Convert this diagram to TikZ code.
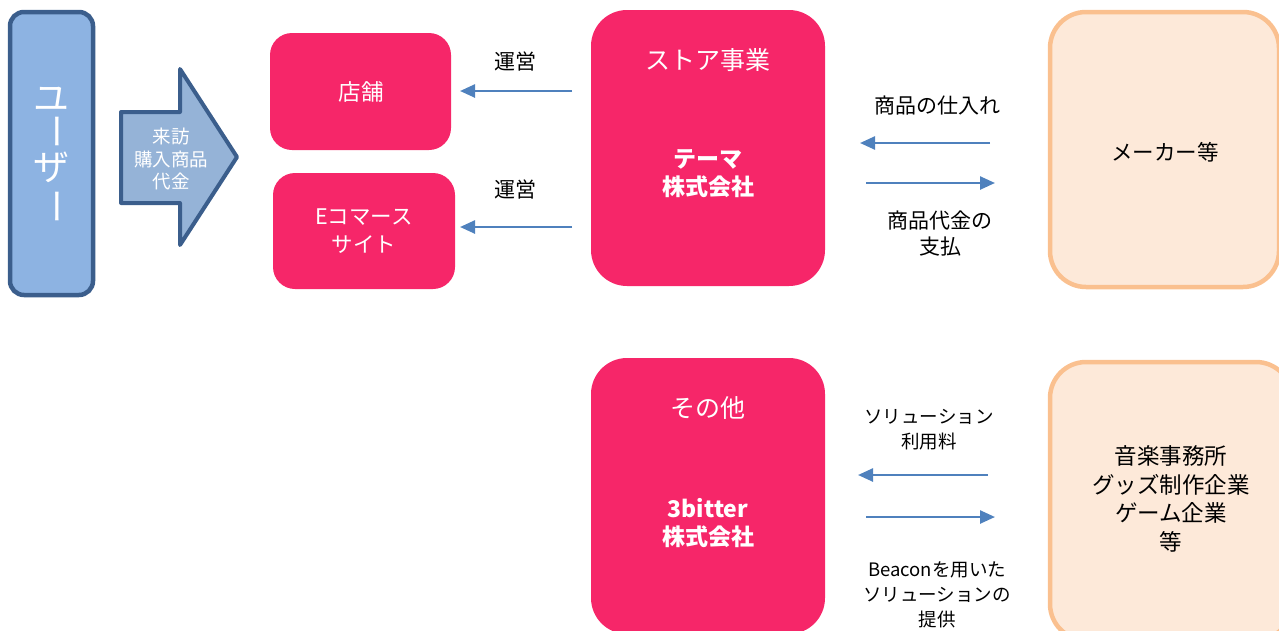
\documentclass[tikz,border=0pt]{standalone}
\usepackage{fontspec}
\setmainfont{Noto Sans CJK JP}
\usetikzlibrary{arrows.meta}
\definecolor{pinkbox}{HTML}{F62669}
\definecolor{userfill}{HTML}{8DB3E2}
\definecolor{userline}{HTML}{3B5E8C}
\definecolor{arrowfill}{HTML}{95B3D7}
\definecolor{peachfill}{HTML}{FDE9D9}
\definecolor{peachline}{HTML}{FAC08F}
\definecolor{flowblue}{HTML}{4F81BD}
\tikzset{
  pinkrect/.style={fill=pinkbox, draw=none, rounded corners=22pt, text=white, align=center, inner sep=0pt},
  bigpink/.style={fill=pinkbox, draw=none, rounded corners=36pt},
  peachrect/.style={fill=peachfill, draw=peachline, line width=4.5pt, rounded corners=36pt},
  flow/.style={draw=flowblue, line width=2.5pt, -{Triangle[length=15pt,width=13pt]}},
  lbl/.style={align=center, font={\fontsize{21}{26}\selectfont}, inner sep=0pt},
  lblb/.style={align=center, font={\fontsize{18.5}{25}\selectfont}, inner sep=0pt},
  vchar/.style={text=white, font={\fontsize{36}{36}\selectfont}, inner sep=0pt},
}
\begin{document}
\begin{tikzpicture}[x=1pt,y=-1pt]
\useasboundingbox (0,0) rectangle (1279,630);
% user
\draw[fill=userfill, draw=userline, line width=4.5pt, rounded corners=14pt] (10,12) rectangle (93,295);
\node[vchar] (u1) at (51,99) {ユ};
\node[vchar, rotate=-90] (u2) at (51,131) {ー};
\node[vchar] (u3) at (51,167) {ザ};
\node[vchar, rotate=-90] (u4) at (51,206) {ー};
% block arrow
\draw[fill=arrowfill, draw=userline, line width=4pt, line join=round]
  (121,112) -- (180,112) -- (180,69) -- (237,157) -- (180,245) -- (180,203) -- (121,203) -- cycle;
\node[text=white, align=center, font={\fontsize{18.5}{22.5}\selectfont}, inner sep=0pt] (visit) at (171,159) {来訪\\購入商品\\代金};
% store boxes
\path[pinkrect] (270,33) rectangle (451,150);
\node[text=white, font={\fontsize{22.5}{28}\selectfont}, inner sep=0pt] (tenpo) at (361,92) {店舗};
\path[pinkrect] (273,173) rectangle (455,289);
\node[text=white, align=center, font={\fontsize{21.5}{28}\selectfont}, inner sep=0pt] (ecom) at (364,231) {Eコマース\\サイト};
% store business
\path[bigpink] (591,10) rectangle (825,286);
\node[text=white, font={\fontsize{25}{30}\selectfont}, inner sep=0pt] (storet) at (708,60) {ストア事業};
\node[text=white, align=center, font={\bfseries\fontsize{23}{28}\selectfont}, inner sep=0pt] (thema) at (708,174) {テーマ\\株式会社};
% others
\path[bigpink] (591,358) rectangle (825,634);
\node[text=white, font={\fontsize{25}{30}\selectfont}, inner sep=0pt] (otht) at (708,408) {その他};
\node[text=white, align=center, font={\bfseries\fontsize{23}{28}\selectfont}, inner sep=0pt] (bitter) at (708,523) {3bitter\\株式会社};
% peach boxes
\path[peachrect] (1050,12) rectangle (1279,287);
\node[font={\fontsize{21.5}{28}\selectfont}, inner sep=0pt] (maker) at (1165,152) {メーカー等};
\path[peachrect] (1050,362) rectangle (1292,640);
\node[align=center, font={\fontsize{22.5}{28.5}\selectfont}, inner sep=0pt] (music) at (1171,499) {音楽事務所\\グッズ制作企業\\ゲーム企業\\等};
% arrows top-left
\coordinate (a1s) at (572,91); \coordinate (a1e) at (460,91);
\coordinate (a2s) at (572,227); \coordinate (a2e) at (460,227);
\draw[flow] (a1s) -- (a1e);
\draw[flow] (a2s) -- (a2e);
\node[lbl] (unei1) at (515,62) {運営};
\node[lbl] (unei2) at (515,190) {運営};
% arrows top-right
\coordinate (b1s) at (990,143); \coordinate (b1e) at (860,143);
\coordinate (b2s) at (866,183); \coordinate (b2e) at (995,183);
\draw[flow] (b1s) -- (b1e);
\draw[flow] (b2s) -- (b2e);
\node[lbl] (shiire) at (937,106) {商品の仕入れ};
\node[lbl] (shiharai) at (940,234) {商品代金の\\支払};
% arrows bottom
\coordinate (c1s) at (988,475); \coordinate (c1e) at (858,475);
\coordinate (c2s) at (866,517); \coordinate (c2e) at (995,517);
\draw[flow] (c1s) -- (c1e);
\draw[flow] (c2s) -- (c2e);
\node[lblb] (riyou) at (929,430) {ソリューション\\利用料};
\node[lblb] (teikyo) at (937,595) {Beaconを用いた\\ソリューションの\\提供};
\end{tikzpicture}
\end{document}
